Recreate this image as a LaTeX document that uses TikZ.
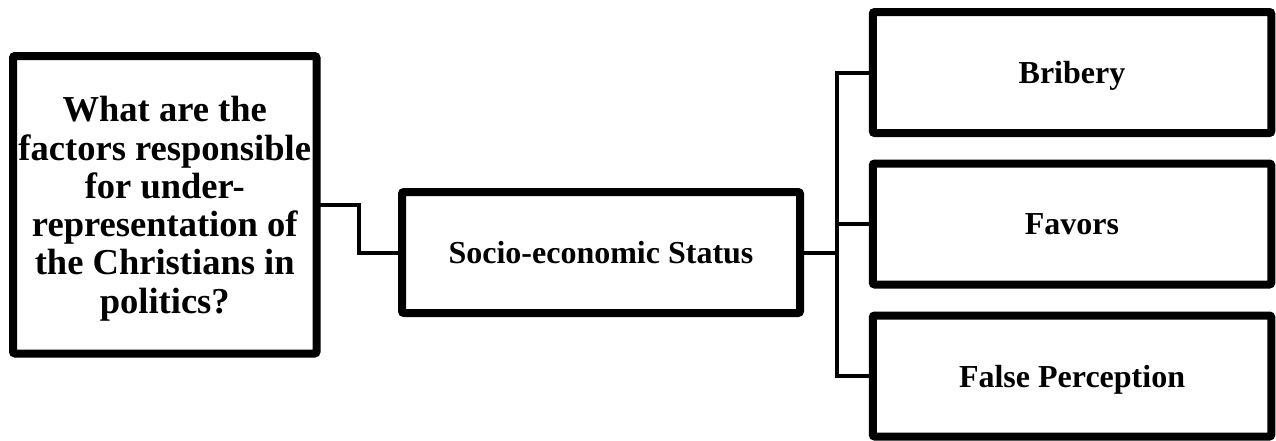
\documentclass[tikz,border=0pt]{standalone}
\usepackage{fontspec}
\setmainfont{Liberation Serif}
\usetikzlibrary{shadows}
\begin{document}
\begin{tikzpicture}[x=0.75pt, y=-0.75pt,
  box/.style={draw=black, line width=6pt, fill=white, rounded corners=1.5pt,
    inner sep=0pt, align=center, text depth=0pt,
    font=\bfseries\fontsize{24}{26}\selectfont,
    drop shadow={shadow xshift=0.8pt, shadow yshift=-2.2pt, opacity=0.25, fill=black}},
  link/.style={draw=black, line width=3pt, line join=miter}]
  \useasboundingbox (0,0) rectangle (1276,440);

  % coordinates of the two vertical runs
  \coordinate (j1) at (359,0);
  \coordinate (tr) at (837,0);

  % connectors (drawn first so the boxes sit on top)
  \path[link] (164.75,204.75) -- (j1 |- 0,204.75) -- (j1 |- 0,252.5) -- (601,252.5);
  \path[link] (601,252.5) -- (tr |- 0,252.5);
  \path[link] (1072,72.5) -- (tr |- 0,72.5) -- (tr |- 0,376) -- (1072,376);
  \path[link] (tr |- 0,224) -- (1072,224);

  % question box
  \node[box, minimum width=303.5*0.75pt, minimum height=297.5*0.75pt,
        font=\bfseries\fontsize{27.4}{28.7}\selectfont]
    (q) at (164.75,204.75)
    {What are the\\factors responsible\\for under-\\representation of\\the Christians in\\politics?};

  % middle box
  \node[box, minimum width=398*0.75pt, minimum height=121*0.75pt]
    (m) at (601,252.5) {Socio-economic Status};

  % right-hand boxes
  \node[box, minimum width=398.5*0.75pt, minimum height=121*0.75pt]
    (b) at (1072,72.5) {Bribery};
  \node[box, minimum width=398.5*0.75pt, minimum height=121*0.75pt]
    (f) at (1072,224) {Favors};
  \node[box, minimum width=398.5*0.75pt, minimum height=121*0.75pt]
    (p) at (1072,376) {False Perception};
\end{tikzpicture}
\end{document}
